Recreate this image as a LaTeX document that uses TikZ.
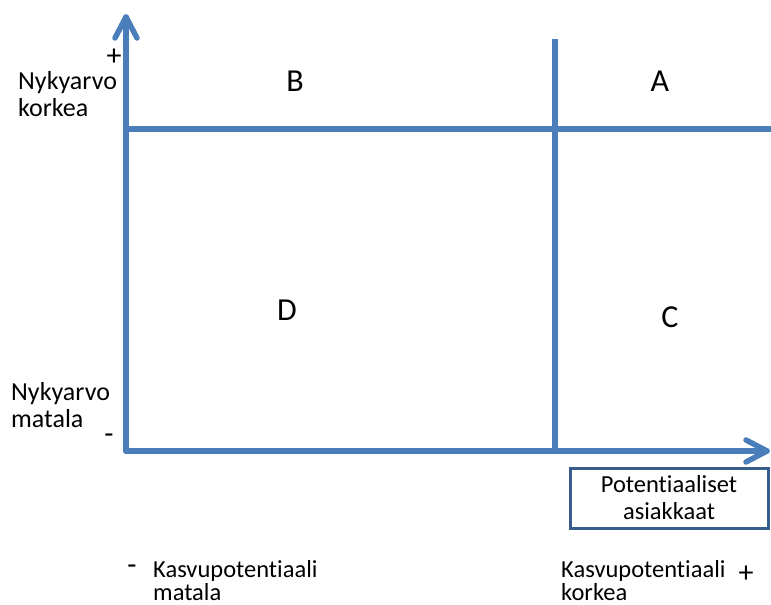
\documentclass[tikz,border=0pt]{standalone}
\usepackage{fontspec}
\setmainfont{Carlito}[Ligatures=NoCommon]
\definecolor{axisblue}{HTML}{4A7EBB}
\definecolor{boxblue}{HTML}{385D8A}
\begin{document}
\begin{tikzpicture}[x=1pt,y=-1pt,
  axis/.style={draw=axisblue,line width=5.5pt,line cap=round,line join=round},
  grid/.style={draw=axisblue,line width=5.5pt},
  lbl/.style={inner sep=0pt,font=\fontsize{26}{27}\selectfont,align=left},
  blbl/.style={inner sep=0pt,font=\fontsize{24.5}{22.5}\selectfont,align=left},
  quad/.style={inner sep=0pt,font=\fontsize{32}{36}\selectfont},
  sign/.style={inner sep=0pt,font=\fontsize{30}{30}\selectfont}]
\useasboundingbox (0,0) rectangle (771,605);
% grid lines
\coordinate (hl) at (126,129);
\coordinate (hr) at (771,129);
\coordinate (vt) at (555,39);
\coordinate (vb) at (555,451);
\draw[grid] (hl) -- (hr);
\draw[grid] (vt) -- (vb);
% axes
\coordinate (o) at (126,451);
\coordinate (ytip) at (126,17);
\coordinate (xtip) at (767,451);
\draw[axis] (o) -- (ytip);
\draw[axis] (o) -- (xtip);
\draw[axis] (115,38) -- (ytip) -- (137,38);
\draw[axis] (746,440) -- (xtip) -- (746,462);
% quadrant letters
\node[quad,anchor=base] (B) at (295,91) {B};
\node[quad,anchor=base] (A) at (660,91) {A};
\node[quad,anchor=base] (D) at (287,320) {D};
\node[quad,anchor=base] (C) at (670,327) {C};
% left labels
\node[lbl,anchor=base west] (nk) at (18,116) {Nykyarvo\\korkea};
\node[lbl,anchor=base west] (nm) at (11,427) {Nykyarvo\\matala};
\node[sign] (plusy) at (114,57) {+};
\node[sign] (minusy) at (109,439) {-};
% box
\node[draw=boxblue,line width=3pt,minimum width=198pt,minimum height=60pt,inner sep=0pt,
  font=\fontsize{24.5}{27}\selectfont,align=center] (pa) at (669,498) {Potentiaaliset\\asiakkaat};
% bottom labels
\node[sign] (minusx) at (132,570) {-};
\node[blbl,anchor=base west] (km) at (153,600) {Kasvupotentiaali\\matala};
\node[blbl,anchor=base west] (kk) at (561,600) {Kasvupotentiaali\\korkea};
\node[sign] (plusx) at (746,574) {+};
\end{tikzpicture}
\end{document}
